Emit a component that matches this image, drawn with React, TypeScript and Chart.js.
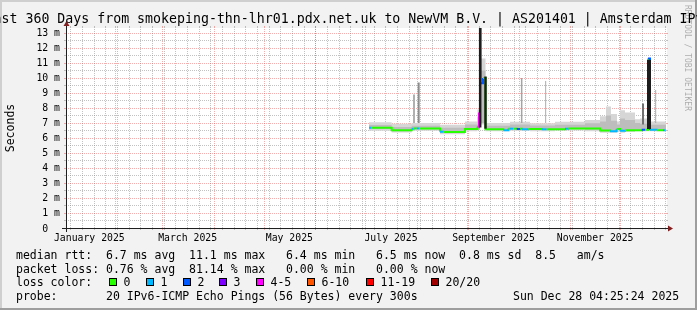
import React, { useEffect, useRef } from 'react';
import { Chart, registerables } from 'chart.js';

Chart.register(...registerables);

// ---------- text ----------
const TITLE = 'Last 360 Days from smokeping-thn-lhr01.pdx.net.uk to NewVM B.V. | AS201401 | Amsterdam IPv6';
const Y_TITLE = 'Seconds';
const WATERMARK = 'RRDTOOL / TOBI OETIKER';

// ---------- axes (x in day-of-year 2025, 0 = Jan 1) ----------
const X_MIN = 1.5;
const X_MAX = 361.5;
const Y_MAX = 13.3333;
const monthStartDays = [31, 59, 90, 120, 151, 181, 212, 243, 273, 304, 334];
const monthLabelDays = [15.5, 74.5, 135.5, 196.5, 258, 319];
const monthLabels = ['January 2025', 'March 2025', 'May 2025', 'July 2025', 'September 2025', 'November 2025'];
const firstSunday = 4;
const yTickValues = [0, 1, 2, 3, 4, 5, 6, 7, 8, 9, 10, 11, 12, 13];
const yTickLabels = ['0  ', '1 m', '2 m', '3 m', '4 m', '5 m', '6 m', '7 m', '8 m', '9 m', '10 m', '11 m', '12 m', '13 m'];

// ---------- median rtt (ms), stepped, with loss class ----------
const medianDays = [183.3, 184.5, 196.9, 208.9, 210.0, 211.9, 213.5, 225.9, 227.9, 240.9, 248.4, 249.3, 249.9, 250.1, 251.7, 253.2, 263.9, 266.9, 267.9, 269.9, 271.9, 273.9, 274.9, 278.9, 286.9, 289.9, 300.9, 302.9, 321.9, 327.9, 331.9, 333.9, 336.9, 346.9, 348.9, 350.7, 351.9, 355.9, 359.7, 360.9, 361.5];
const medianMs = [6.68, 6.68, 6.52, 6.62, 6.64, 6.64, 6.64, 6.42, 6.40, 6.60, 6.75, 7.7, 14, 9.65, 10.0, 6.58, 6.52, 6.62, 6.62, 6.62, 6.60, 6.62, 6.58, 6.60, 6.58, 6.58, 6.62, 6.64, 6.50, 6.45, 6.60, 6.48, 6.52, 6.55, 6.55, 11.3, 6.55, 6.52, 6.52, 6.52, 6.52];
const medianLoss = [1, 0, 0, 1, 0, 1, 0, 1, 0, 0, 4, 6, 7, 2, 0, 0, 1, 0, 1, 0, 2, 0, 1, 0, 1, 0, 1, 0, 0, 1, 0, 1, 0, 2, 0, 2, 1, 0, 1, 0, 0];

// ---------- smoke (ms), stepped ----------
const smokeDays = [183.3, 196.9, 208.9, 225.9, 240.9, 248.4, 249.9, 253.2, 267.9, 279.9, 294.9, 312.9, 321.9, 325.5, 328.5, 332.1, 333.9, 336.9, 342.9, 345.9, 352.5, 361.5];
const smokeMax = [7.05, 6.95, 7.0, 6.88, 7.1, 7.9, 11.3, 7.0, 7.08, 6.98, 7.08, 7.2, 7.45, 8.1, 7.6, 7.1, 7.85, 7.7, 7.25, 7.3, 7.1, 7.1];
const smokeUpper = [6.86, 6.74, 6.82, 6.68, 6.9, 7.4, 10.5, 6.82, 6.9, 6.84, 6.88, 6.98, 7.1, 7.5, 7.15, 6.9, 7.3, 7.2, 7.0, 6.95, 6.88, 6.88];
const smokeLower = [6.6, 6.45, 6.58, 6.35, 6.55, 6.6, 7.0, 6.55, 6.58, 6.55, 6.6, 6.55, 6.45, 6.45, 6.45, 6.55, 6.45, 6.5, 6.55, 6.5, 6.5, 6.5];
const smokeMin = [6.48, 6.36, 6.48, 6.25, 6.45, 6.55, 6.9, 6.45, 6.48, 6.45, 6.5, 6.45, 6.35, 6.35, 6.35, 6.4, 6.35, 6.4, 6.45, 6.45, 6.45, 6.45];

// ---------- single-ping spikes (ms) ----------
const spikeDays = [210.3, 213.1, 274.9, 289.3, 347.7, 355.3];
const spikeFrom = [7.0, 7.0, 7.0, 7.0, 6.9, 7.0];
const spikeTo = [8.9, 9.7, 10.0, 9.8, 8.3, 9.2];

// ---------- median jumps (ms) ----------
const jumpDays = [250.0, 253.2, 351.3];
const jumpFrom = [6.7, 6.62, 6.6];
const jumpTo = [13.5, 10.1, 11.2];

// ---------- legend ----------
const legendRtt = 'median rtt:  6.7 ms avg  11.1 ms max   6.4 ms min   6.5 ms now  0.8 ms sd  8.5   am/s';
const legendLoss = 'packet loss: 0.76 % avg  81.14 % max   0.00 % min   0.00 % now';
const legendLossColor = 'loss color:';
const lossLabels = ['0', '1', '2', '3', '4-5', '6-10', '11-19', '20/20'];
const legendProbe = 'probe:       20 IPv6-ICMP Echo Pings (56 Bytes) every 300s';
const dateText = 'Sun Dec 28 04:25:24 2025';

// ---------- styles ----------
const W = 697;
const H = 310;
const MONO = '"DejaVu Sans Mono", monospace';
const LOSS_COLORS = ['#26ff00', '#00b8ff', '#0059ff', '#7e00ff', '#ff00fe', '#ff5500', '#ff0000', '#a00000'];
const SPIKE_COLORS = ['#b0b0b0', '#8c8c8c', '#a4a4a4', '#ababab', '#707070', '#ababab'];
const SPIKE_WIDTHS = [2, 2, 1.5, 1, 2, 1];
const JUMP_WIDTHS = [2.5, 2.5, 4];

const pts = (xs: number[], ys: number[]) => xs.map((d, i) => ({ x: d, y: ys[i] }));
const verticals = (xs: number[], from: number[], to: number[]) => {
  const out: any[] = [];
  xs.forEach((d, i) => {
    out.push({ x: d, y: from[i] }, { x: d, y: to[i] }, { x: d, y: NaN });
  });
  return out;
};

const rrdPlugin = {
  id: 'rrdLook',
  beforeDatasetsDraw(chart: any) {
    const { ctx, chartArea: a, scales } = chart;
    const xs = scales.x;
    const ys = scales.y;
    const X0 = Math.round(a.left);
    const X1 = Math.round(a.right);
    const Y0 = Math.round(a.bottom);
    const Y1 = Math.round(a.top);
    ctx.save();
    ctx.fillStyle = '#f2f2f2';
    ctx.fillRect(0, 0, W, H);
    ctx.fillStyle = '#cfcfcf';
    ctx.fillRect(0, 0, W, 2);
    ctx.fillRect(0, 0, 2, H);
    ctx.fillStyle = '#9e9e9e';
    ctx.fillRect(0, H - 2, W, 2);
    ctx.fillRect(W - 2, 0, 2, H);
    ctx.fillStyle = '#ffffff';
    ctx.fillRect(X0, Y1, X1 - X0 + 1, Y0 - Y1);

    const line = (x1: number, y1: number, x2: number, y2: number) => {
      ctx.beginPath();
      ctx.moveTo(x1, y1);
      ctx.lineTo(x2, y2);
      ctx.stroke();
    };
    const hgrid = (v: number, color: string) => {
      const py = Math.round(ys.getPixelForValue(v)) + 0.5;
      ctx.strokeStyle = color;
      ctx.setLineDash([]);
      line(X0 - 2, py, X0, py);
      line(X1, py, X1 + 2, py);
      ctx.setLineDash([1, 1]);
      line(X0, py, X1, py);
    };
    const vgrid = (d: number, color: string) => {
      const px = Math.round(xs.getPixelForValue(d)) + 0.5;
      ctx.strokeStyle = color;
      ctx.setLineDash([]);
      line(px, Y0, px, Y0 + 2);
      line(px, Y1 - 2, px, Y1);
      ctx.setLineDash([1, 1]);
      line(px, Y0, px, Y1);
    };
    ctx.lineWidth = 1;
    const minor = 'rgba(143,143,143,0.55)';
    const major = 'rgba(222,79,79,0.45)';
    for (let v = 0.5; v < Y_MAX; v += 1) hgrid(v, minor);
    for (let d = firstSunday; d <= X_MAX; d += 7) if (d >= X_MIN) vgrid(d, minor);
    yTickValues.forEach((v) => { if (v > 0) hgrid(v, major); });
    monthStartDays.forEach((d) => vgrid(d, major));
    ctx.restore();
  },
  afterDatasetsDraw(chart: any) {
    const { ctx, chartArea: a, scales } = chart;
    const xs = scales.x;
    const ys = scales.y;
    const X0 = Math.round(a.left);
    const X1 = Math.round(a.right);
    const Y0 = Math.round(a.bottom);
    const Y1 = Math.round(a.top);
    ctx.save();
    // axes
    ctx.strokeStyle = '#1f1f1f';
    ctx.lineWidth = 1;
    ctx.setLineDash([]);
    ctx.beginPath();
    ctx.moveTo(X0 - 4, Y0 + 0.5);
    ctx.lineTo(X1 + 4, Y0 + 0.5);
    ctx.moveTo(X0 + 0.5, Y0 + 4);
    ctx.lineTo(X0 + 0.5, Y1 - 4);
    ctx.stroke();
    ctx.fillStyle = '#801f1f';
    ctx.beginPath();
    ctx.moveTo(X1 + 2, Y0 - 2.5);
    ctx.lineTo(X1 + 2, Y0 + 3.5);
    ctx.lineTo(X1 + 7, Y0 + 0.5);
    ctx.closePath();
    ctx.fill();
    ctx.beginPath();
    ctx.moveTo(X0 - 2.5, Y1 - 2);
    ctx.lineTo(X0 + 3.5, Y1 - 2);
    ctx.lineTo(X0 + 0.5, Y1 - 7);
    ctx.closePath();
    ctx.fill();

    ctx.fillStyle = '#000';
    ctx.textBaseline = 'alphabetic';
    // y tick labels
    ctx.font = `9.8px ${MONO}`;
    ctx.textAlign = 'right';
    yTickValues.forEach((v, i) => {
      const py = ys.getPixelForValue(v);
      ctx.fillText(yTickLabels[i], X0 - 6, py + 3.5);
    });
    // x tick labels
    ctx.textAlign = 'center';
    monthLabelDays.forEach((d, i) => {
      ctx.fillText(monthLabels[i], xs.getPixelForValue(d), Y0 + 13);
    });
    // title
    ctx.font = `13.25px ${MONO}`;
    ctx.fillText(TITLE, W / 2, 23);
    // y title
    ctx.save();
    ctx.font = `11.5px ${MONO}`;
    ctx.translate(14, 128);
    ctx.rotate(-Math.PI / 2);
    ctx.textAlign = 'center';
    ctx.fillText(Y_TITLE, 0, 0);
    ctx.restore();
    // watermark
    ctx.save();
    ctx.font = `8px ${MONO}`;
    ctx.fillStyle = 'rgba(0,0,0,0.3)';
    ctx.translate(685, 5);
    ctx.rotate(Math.PI / 2);
    ctx.textAlign = 'left';
    ctx.fillText(WATERMARK, 0, 0);
    ctx.restore();

    // legend
    ctx.font = `11.5px ${MONO}`;
    ctx.textAlign = 'left';
    const r1 = 259, r2 = 272.7, r3 = 286.4, r4 = 300;
    ctx.fillText(legendRtt, 16, r1);
    ctx.fillText(legendLoss, 16, r2);
    ctx.fillText(legendLossColor, 16, r3);
    const boxX = [109, 146, 183, 219, 256, 307, 366, 431];
    lossLabels.forEach((t, i) => {
      ctx.fillStyle = LOSS_COLORS[i];
      ctx.fillRect(boxX[i], 278, 8, 8);
      ctx.strokeStyle = '#000';
      ctx.lineWidth = 1;
      ctx.strokeRect(boxX[i] + 0.5, 278.5, 7, 7);
      ctx.fillStyle = '#000';
      ctx.fillText(t, boxX[i] + 14.5, r3);
    });
    ctx.fillText(legendProbe, 16, r4);
    ctx.fillText(dateText, 513, r4);
    ctx.restore();
  },
};

export default function App() {
  const ref = useRef<HTMLCanvasElement | null>(null);
  useEffect(() => {
    document.body.style.margin = '0';
    const canvas = ref.current;
    if (!canvas) return;
    const stepBase = { stepped: true, pointRadius: 0, borderWidth: 0, borderColor: 'transparent', clip: 0 };
    const chart = new Chart(canvas, {
      type: 'line',
      data: {
        datasets: [
          { ...stepBase, data: pts(smokeDays, smokeMin), fill: false, order: 20 },
          { ...stepBase, data: pts(smokeDays, smokeMax), fill: 0, backgroundColor: '#d6d6d6', order: 19 },
          { ...stepBase, data: pts(smokeDays, smokeLower), fill: false, order: 18 },
          { ...stepBase, data: pts(smokeDays, smokeUpper), fill: 2, backgroundColor: '#bdbdbd', order: 17 },
          {
            data: verticals(spikeDays, spikeFrom, spikeTo),
            pointRadius: 0, borderWidth: 2, borderColor: '#a0a0a0', fill: false, clip: 0, order: 10,
            segment: {
              borderColor: (c: any) => SPIKE_COLORS[Math.floor(c.p0DataIndex / 3)],
              borderWidth: (c: any) => SPIKE_WIDTHS[Math.floor(c.p0DataIndex / 3)],
            },
          },
          {
            data: pts(medianDays, medianMs),
            stepped: true, pointRadius: 0, borderWidth: 2, borderColor: LOSS_COLORS[0], fill: false, clip: 0, order: 5,
            segment: { borderColor: (c: any) => LOSS_COLORS[medianLoss[c.p0DataIndex]] },
          },
          {
            data: verticals(jumpDays, jumpFrom, jumpTo),
            pointRadius: 0, borderWidth: 2.5, borderColor: '#1c1c1c', fill: false, clip: 0, order: 1,
            segment: { borderWidth: (c: any) => JUMP_WIDTHS[Math.floor(c.p0DataIndex / 3)] },
          },
        ] as any,
      },
      options: {
        animation: false,
        responsive: false,
        maintainAspectRatio: false,
        devicePixelRatio: 1,
        events: [],
        layout: { padding: { left: 66, right: 31, top: 28, bottom: 82 } },
        scales: {
          x: { type: 'linear', min: X_MIN, max: X_MAX, display: false, offset: false },
          y: { type: 'linear', min: 0, max: Y_MAX, display: false },
        },
        plugins: { legend: { display: false }, tooltip: { enabled: false }, title: { display: false } },
      } as any,
      plugins: [rrdPlugin],
    });
    return () => chart.destroy();
  }, []);
  return <canvas ref={ref} width={W} height={H} style={{ display: 'block', width: W + 'px', height: H + 'px' }} />;
}
